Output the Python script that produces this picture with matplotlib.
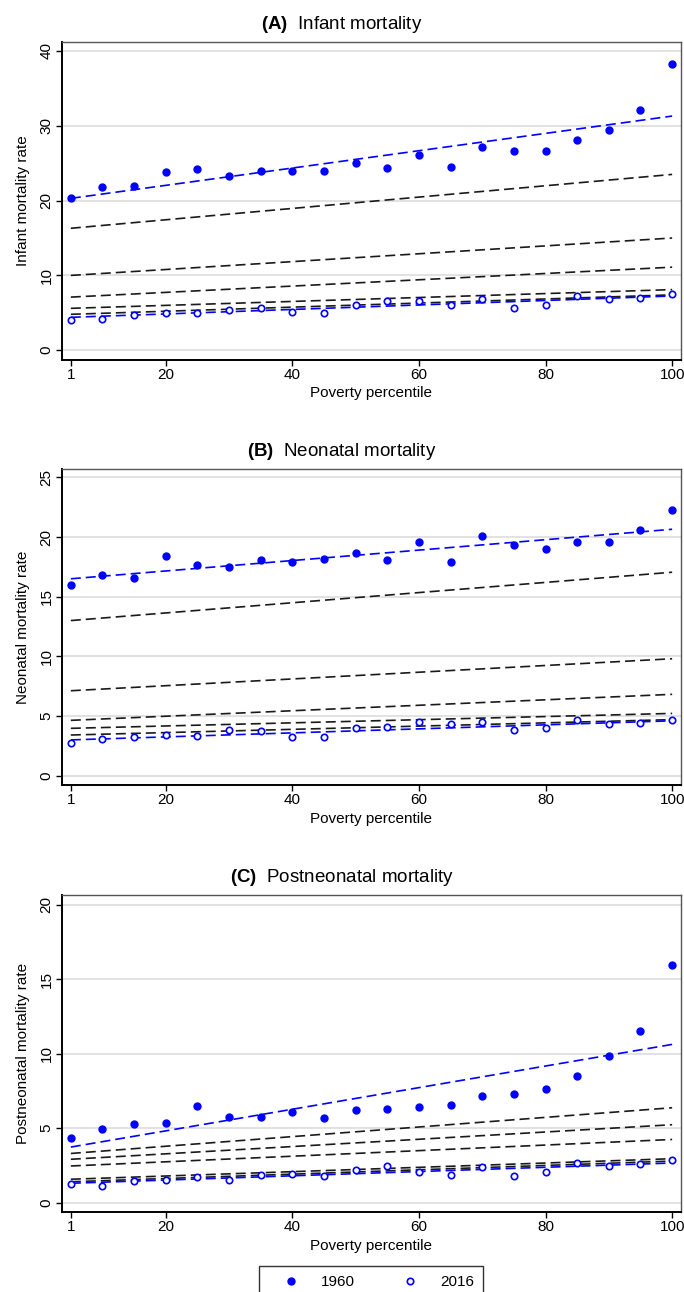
import matplotlib
matplotlib.use("Agg")
import matplotlib.pyplot as plt
from matplotlib import font_manager as fm

# ventiles of county poverty (first group labelled "1" on the axis)
pct = [5, 10, 15, 20, 25, 30, 35, 40, 45, 50, 55, 60, 65, 70, 75, 80, 85, 90, 95, 100]

# (A) infant mortality
a_1960 = [20.4, 21.8, 22.0, 23.8, 24.2, 23.3, 23.9, 24.0, 24.0, 25.0,
          24.4, 26.1, 24.5, 27.2, 26.6, 26.6, 28.1, 29.5, 32.1, 38.2]
a_2016 = [4.0, 4.2, 4.75, 5.0, 5.0, 5.4, 5.65, 5.15, 5.0, 6.1,
          6.55, 6.6, 6.1, 6.9, 5.65, 6.05, 7.3, 6.8, 6.96, 7.55]
a_fit1960 = (20.3, 31.3)
a_fit2016 = (4.4, 7.25)
a_mid = [(16.3, 23.5), (10.0, 15.0), (7.1, 11.1), (5.6, 8.1), (4.8, 7.4)]

# (B) neonatal mortality
b_1960 = [16.0, 16.8, 16.6, 18.4, 17.65, 17.45, 18.1, 17.9, 18.2, 18.7,
          18.1, 19.6, 17.9, 20.05, 19.3, 19.0, 19.6, 19.55, 20.55, 22.3]
b_2016 = [2.75, 3.08, 3.25, 3.42, 3.3, 3.87, 3.75, 3.25, 3.28, 3.98,
          4.12, 4.48, 4.31, 4.5, 3.84, 4.0, 4.68, 4.34, 4.4, 4.68]
b_fit1960 = (16.5, 20.65)
b_fit2016 = (3.0, 4.6)
b_mid = [(13.0, 17.05), (7.12, 9.8), (4.64, 6.82), (3.97, 5.22), (3.41, 4.7)]

# (C) postneonatal mortality
c_1960 = [4.32, 4.92, 5.3, 5.37, 6.48, 5.77, 5.75, 6.08, 5.7, 6.24,
          6.26, 6.41, 6.55, 7.15, 7.3, 7.6, 8.5, 9.87, 11.5, 15.95]
c_2016 = [1.22, 1.11, 1.47, 1.54, 1.69, 1.49, 1.87, 1.92, 1.76, 2.16,
          2.43, 2.07, 1.87, 2.36, 1.8, 2.03, 2.65, 2.47, 2.6, 2.85]
c_fit1960 = (3.73, 10.62)
c_fit2016 = (1.3, 2.66)
c_mid = [(3.3, 6.37), (2.91, 5.23), (2.46, 4.24), (1.57, 2.95), (1.4, 2.79)]

xticks = [5, 20, 40, 60, 80, 100]
xticklabels = ["1", "20", "40", "60", "80", "100"]

names = {f.name for f in fm.fontManager.ttflist}
narrow = "Liberation Sans Narrow" if "Liberation Sans Narrow" in names else "Liberation Sans"
title_size = 15 if narrow == "Liberation Sans Narrow" else 13.5

plt.rcParams["font.family"] = ["Liberation Sans", "DejaVu Sans"]
plt.rcParams["mathtext.fontset"] = "custom"
plt.rcParams["mathtext.rm"] = narrow
plt.rcParams["mathtext.bf"] = narrow + ":bold"

BLUE = "#0000ff"

panels = [
    ("(A)", "Infant mortality", "Infant mortality rate", a_1960, a_2016, a_fit1960, a_fit2016, a_mid,
     [0, 10, 20, 30, 40], (-1.3, 41.2), (0.7214, 0.2461)),
    ("(B)", "Neonatal mortality", "Neonatal mortality rate", b_1960, b_2016, b_fit1960, b_fit2016, b_mid,
     [0, 5, 10, 15, 20, 25], (-0.78, 25.7), (0.3924, 0.2446)),
    ("(C)", "Postneonatal mortality", "Postneonatal mortality rate", c_1960, c_2016, c_fit1960, c_fit2016, c_mid,
     [0, 5, 10, 15, 20], (-0.63, 20.65), (0.0619, 0.2454)),
]

fig = plt.figure(figsize=(6.84, 12.92), dpi=100)

for tag, title, ylab, y60, y16, f60, f16, mids, yt, ylim, (bot, hgt) in panels:
    ax = fig.add_axes([0.0906, bot, 0.905, hgt])
    ends = [pct[0], pct[-1]]
    for lo, hi in mids:
        ax.plot(ends, [lo, hi], color="#1a1a1a", lw=1.2, dashes=(6, 3), zorder=2)
    ax.plot(ends, list(f60), color=BLUE, lw=1.2, dashes=(6, 3), zorder=3)
    ax.plot(ends, list(f16), color=BLUE, lw=1.2, dashes=(6, 3), zorder=3)
    h60, = ax.plot(pct, y60, "o", ms=5.0, color=BLUE, mec=BLUE, ls="none", zorder=4, label="1960")
    h16, = ax.plot(pct, y16, "o", ms=4.6, mfc="white", mec=BLUE, mew=1.2, ls="none", zorder=4, label="2016")

    ax.set_xlim(3.6, 101.4)
    ax.set_ylim(*ylim)
    ax.set_xticks(xticks)
    ax.set_xticklabels(xticklabels)
    ax.set_yticks(yt)
    ax.set_yticklabels([str(v) for v in yt], rotation=90, va="center")
    ax.yaxis.grid(True, color="#e2e2e2", lw=1.4)
    ax.set_axisbelow(True)
    ax.tick_params(labelsize=11, length=4, width=1.0, direction="out", pad=2)
    for s in ("left", "bottom"):
        ax.spines[s].set_linewidth(1.4)
        ax.spines[s].set_color("black")
    for s in ("top", "right"):
        ax.spines[s].set_linewidth(1.0)
        ax.spines[s].set_color("#555555")
    ax.set_xlabel("Poverty percentile", fontsize=11, labelpad=3)
    ax.set_ylabel(ylab, fontsize=11, labelpad=7)
    ax.set_title(r"$\mathbf{" + tag + r"}$  " + title, fontsize=title_size, pad=9,
                 x=(342 - 62) / 619)

leg = fig.legend(handles=[h60, h16], loc="upper center", bbox_to_anchor=(371 / 684, 1 - 1266 / 1292),
                 ncol=2, frameon=True, fancybox=False, fontsize=11, handlelength=3.0,
                 handletextpad=0.46, columnspacing=2.1, borderpad=0.6, borderaxespad=0)
leg.get_frame().set_edgecolor("black")
leg.get_frame().set_linewidth(1.0)

fig.savefig("out.png", dpi=100)
